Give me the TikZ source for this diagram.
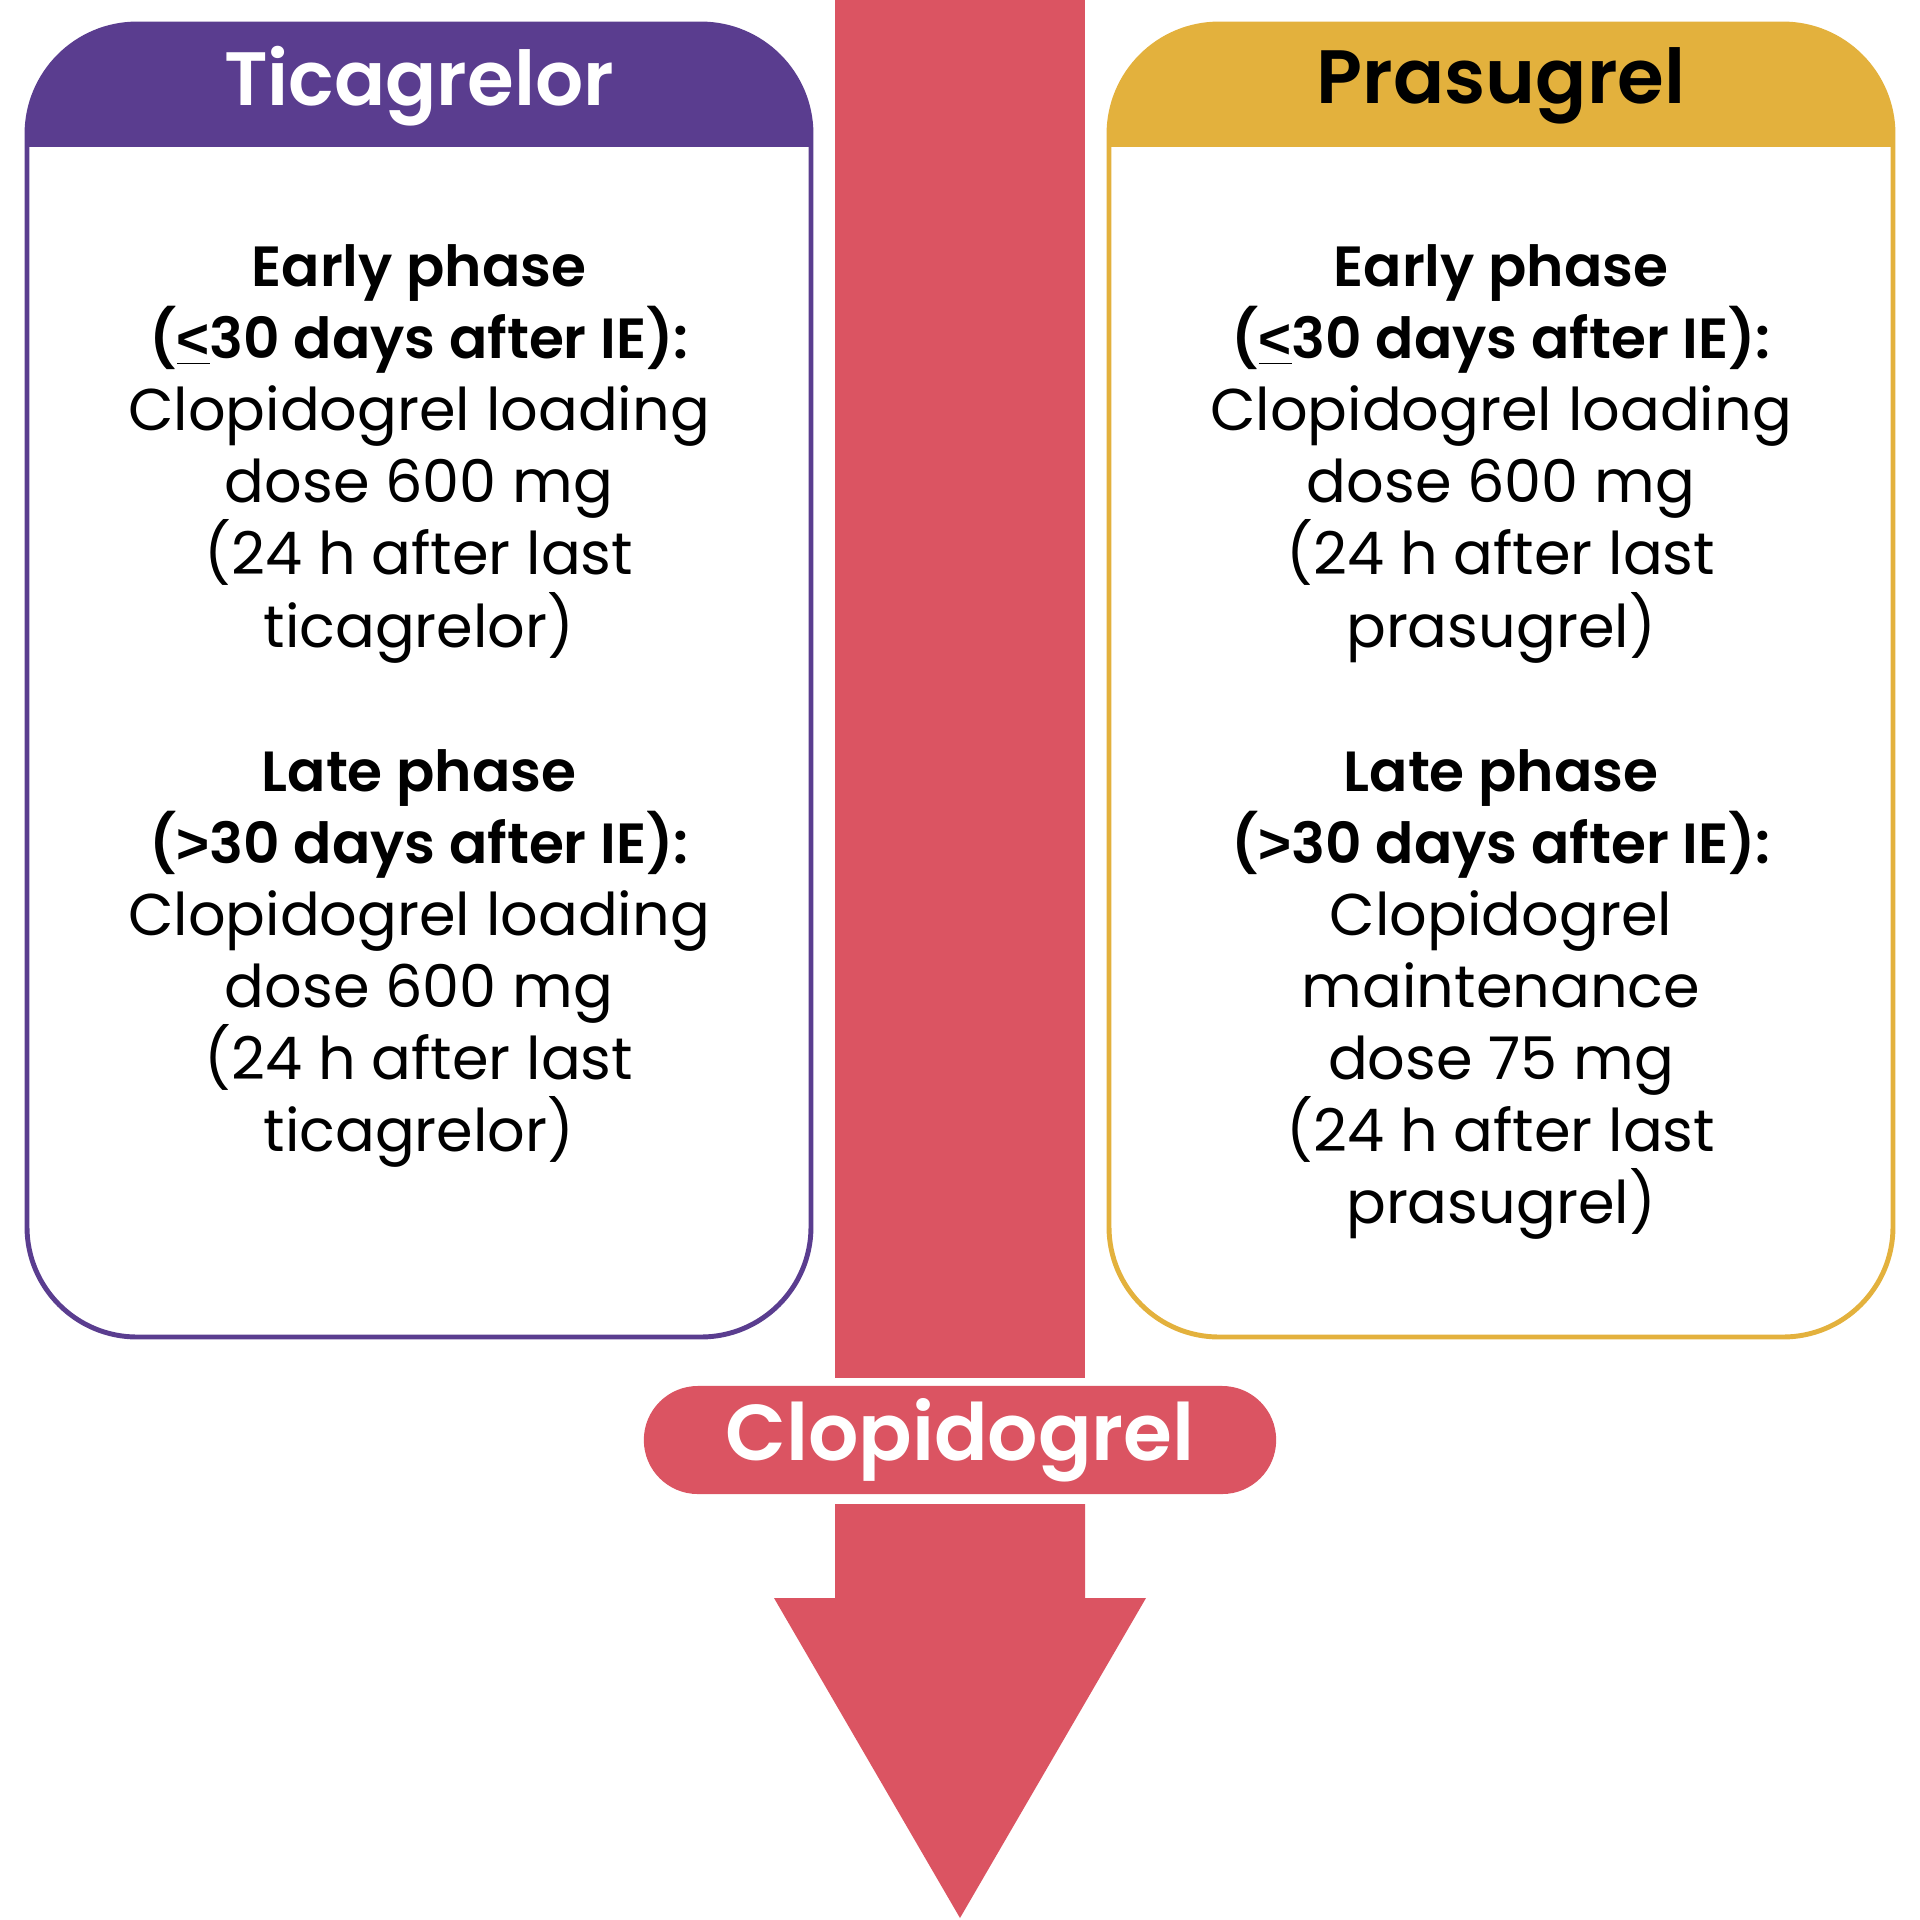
\documentclass[tikz,border=0pt]{standalone}
\usepackage{fontspec}
\setmainfont{Poppins}[BoldFont={Poppins SemiBold}]
\newfontfamily\ltfont{Liberation Sans}
\usetikzlibrary{positioning}
\newcommand\phasetxt[1]{{\fontsize{16.1}{20.5}\selectfont\bfseries #1}}

\begin{document}
\begin{tikzpicture}[x=0.01cm,y=-0.01cm,
  card/.style={line width=1.4pt,rounded corners=1.1cm},
  head/.style={font=\fontsize{21.5}{26}\selectfont\bfseries,inner sep=0pt},
  body/.style={align=center,anchor=north,inner sep=0pt,font=\fontsize{16.75}{20.5}\selectfont},
  pill/.style={fill=clopred,rounded corners=0.54cm,minimum width=6.32cm,minimum height=1.08cm,text=white,font=\fontsize{22.5}{26}\selectfont\bfseries}]
\definecolor{ticapurple}{RGB}{90,61,143}
\definecolor{prasugold}{RGB}{227,177,61}
\definecolor{clopred}{RGB}{219,84,98}
\useasboundingbox (0,0) rectangle (1920,1920);
% red arrow, split by the label
\fill[clopred] (835,0) rectangle (1085,1378);
\node[pill] (clop) at (960,1440) {Clopidogrel};
\fill[clopred] (835,1504) -- (835,1598) -- (774,1598) -- (960,1918) -- (1146,1598) -- (1085,1598) -- (1085,1504) -- cycle;
% ticagrelor card
\begin{scope}
\clip[rounded corners=1.1cm] (27,24) rectangle (811,1337);
\fill[ticapurple] (27,24) rectangle (811,147);
\end{scope}
\draw[card,draw=ticapurple] (27,24) rectangle (811,1337);
\node[head,text=white] (tica) at (419,86) {Ticagrelor};
\node[body] (ticatxt) at (419,244) {\phasetxt{Early phase}\\\phasetxt{(\underline{\ltfont\bfseries<}30 days after IE):}\\Clopidogrel loading\\dose 600 mg\\(24 h after last\\ticagrelor)\\[20.5pt]
  \phasetxt{Late phase}\\\phasetxt{({\ltfont\bfseries>}30 days after IE):}\\Clopidogrel loading\\dose 600 mg\\(24 h after last\\ticagrelor)};
% prasugrel card
\begin{scope}
\clip[rounded corners=1.1cm] (1109,24) rectangle (1893,1337);
\fill[prasugold] (1109,24) rectangle (1893,147);
\end{scope}
\draw[card,draw=prasugold] (1109,24) rectangle (1893,1337);
\node[head,text=black] (prasu) at (1501,86) {Prasugrel};
\node[body] (prasutxt) at (1501,244) {\phasetxt{Early phase}\\\phasetxt{(\underline{\ltfont\bfseries<}30 days after IE):}\\Clopidogrel loading\\dose 600 mg\\(24 h after last\\prasugrel)\\[20.5pt]
  \phasetxt{Late phase}\\\phasetxt{({\ltfont\bfseries>}30 days after IE):}\\Clopidogrel\\maintenance\\dose 75 mg\\(24 h after last\\prasugrel)};
\end{tikzpicture}
\end{document}
